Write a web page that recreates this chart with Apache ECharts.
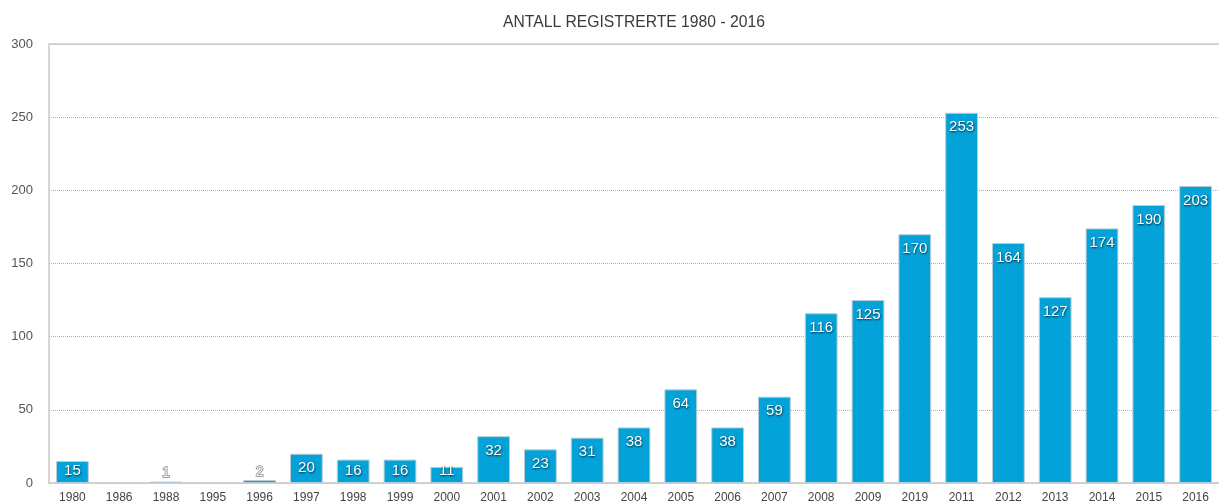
<!DOCTYPE html>
<html>
<head>
<meta charset="utf-8">
<script src="https://cdn.jsdelivr.net/npm/echarts@6/dist/echarts.min.js"></script>
<style>
html,body{margin:0;padding:0;background:#fff;}
#chart{width:1219px;height:504px;}
</style>
</head>
<body>
<div id="chart"></div>
<script>
const titleText = 'ANTALL REGISTRERTE 1980 - 2016';
const categories = ['1980','1986','1988','1995','1996','1997','1998','1999','2000','2001','2002','2003','2004','2005','2006','2007','2008','2009','2019','2011','2012','2013','2014','2015','2016'];
const values = [15,0,1,0,2,20,16,16,11,32,23,31,38,64,38,59,116,125,170,253,164,127,174,190,203];
const yTicks = [0,50,100,150,200,250,300];

const FONT = 'Liberation Sans, Helvetica, Arial, sans-serif';
const chart = echarts.init(document.getElementById('chart'), null, {renderer:'canvas'});
const data = values.map(v => {
  if (v === 0) return {value:v, label:{show:false}, itemStyle:{borderWidth:0}};
  if (v < 8) return {value:v, label:{position:'top', distance:1, color:'#f4f4f4', textBorderColor:'#8a8a8a', textBorderWidth:1.5,
    textShadowBlur:0, textShadowColor:'transparent', fontSize:14}};
  if (v < 20) return {value:v, label:{position:'insideBottom', distance:5}};
  return {value:v};
});
chart.setOption({
  animation:false,
  title:{text:titleText, left:498, top:10,
    textStyle:{fontFamily:FONT, fontSize:15.7, fontWeight:'normal', color:'#3a3a3a'}},
  grid:{left:49, right:-3, top:44, bottom:20, containLabel:false},
  xAxis:{type:'category', data:categories,
    axisLine:{lineStyle:{color:'#c8c8c8', width:1.5}},
    axisTick:{show:false},
    axisLabel:{color:'#444', fontSize:12, fontFamily:FONT, margin:9, interval:0}},
  yAxis:{type:'value', min:0, max:300, interval:50,
    axisLine:{show:true, lineStyle:{color:'#c8c8c8', width:1.5}},
    axisTick:{show:false},
    axisLabel:{color:'#555', fontSize:13, fontFamily:FONT, margin:16, customValues:yTicks},
    splitLine:{show:true, lineStyle:{color:'#b0b0b0', type:[1,1], width:1}}},
  graphic:[{type:'line', shape:{x1:49, y1:44, x2:1219, y2:44}, style:{stroke:'#c8c8c8', lineWidth:1.5}, z:10}],
  series:[{type:'bar', data:data, barWidth:'70%',
    itemStyle:{color:'#03A2D8', borderColor:'#b9cdd6', borderWidth:1},
    label:{show:true, position:'insideTop', distance:7, color:'#fff', fontSize:15,
      fontFamily:FONT, fontWeight:'normal',
      textShadowColor:'rgba(0,0,0,0.75)', textShadowBlur:2, textShadowOffsetX:0.5, textShadowOffsetY:1}}]
});
</script>
</body>
</html>
